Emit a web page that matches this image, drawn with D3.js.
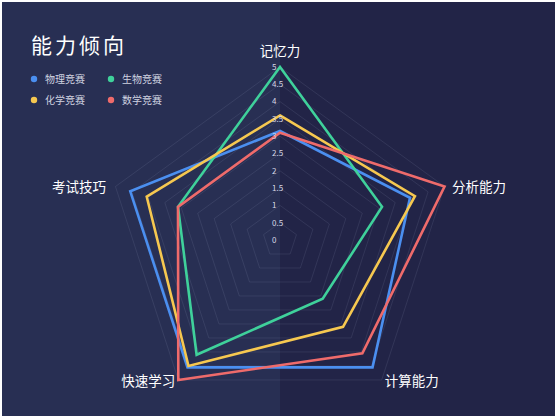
<!DOCTYPE html>
<html><head><meta charset="utf-8">
<script src="https://cdn.jsdelivr.net/npm/d3@7/dist/d3.min.js"></script>
<style>
html,body{margin:0;padding:0;background:#fff;}
svg{display:block;font-family:"Noto Sans CJK SC","Noto Sans",sans-serif;}
</style></head>
<body>
<svg id="chart" width="558" height="419"></svg>
<script>
const axes = ["记忆力", "分析能力", "计算能力", "快速学习", "考试技巧"];
const seriesNames = ["物理竞赛", "生物竞赛", "化学竞赛", "数学竞赛"];
const seriesColors = ["#4b8ff0", "#3fd19b", "#f6c850", "#ef6b6b"];
const physics   = [3.15, 3.95, 4.55, 4.55, 4.55];
const biology   = [5.0, 3.1, 2.1, 4.1, 3.1];
const chemistry = [3.6, 4.1, 3.1, 4.5, 4.05];
const math      = [3.1, 5.0, 4.05, 5.0, 3.1];
const tickValues = [0, 0.5, 1, 1.5, 2, 2.5, 3, 3.5, 4, 4.5, 5];
const tickLabels = ["0", "0.5", "1", "1.5", "2", "2.5", "3", "3.5", "4", "4.5", "5"];
const seriesData = [physics, biology, chemistry, math];

const svg = d3.select("#chart");
const cx = 280, cy = 240, R = 173;

// background panels
svg.append("rect").attr("x", 2).attr("y", 2).attr("width", 278).attr("height", 414).attr("fill", "#282f53");
svg.append("rect").attr("x", 280).attr("y", 2).attr("width", 275).attr("height", 414).attr("fill", "#222447");

const r = d3.scaleLinear().domain([0, 5]).range([0, R]);
const angle = d3.scalePoint().domain(axes).range([0, 2 * Math.PI * 4 / 5]);
const pt = (ax, v) => {
  const a = angle(ax);
  return [cx + r(v) * Math.sin(a), cy - r(v) * Math.cos(a)];
};

const g = svg.append("g");
const lineGen = d3.line().curve(d3.curveLinearClosed);
tickValues.slice(1).forEach(t => {
  g.append("path")
    .attr("d", lineGen(axes.map(a => pt(a, t))))
    .attr("fill", "none")
    .attr("stroke", "rgba(200,210,240,0.13)")
    .attr("stroke-width", 0.8);
});

seriesData.forEach((vals, i) => {
  g.append("path")
    .attr("d", lineGen(axes.map((a, k) => pt(a, vals[k]))))
    .attr("fill", "none")
    .attr("stroke", seriesColors[i])
    .attr("stroke-width", 2.6)
    .attr("stroke-linejoin", "miter");
});

tickValues.forEach((t, i) => {
  g.append("text")
    .attr("x", cx - 8)
    .attr("y", cy - r(t))
    .attr("dy", "0.35em")
    .attr("font-size", 8)
    .attr("fill", "#d6d9e6")
    .text(tickLabels[i]);
});

axes.forEach(a => {
  const ang = angle(a);
  const p = pt(a, 5.35);
  const s = Math.sin(ang);
  let anchor = Math.abs(s) < 0.1 ? "middle" : (s > 0 ? "start" : "end");
  let dx = 0, dy = 0;
  if (anchor === "middle") dy = -4;
  else if (Math.cos(ang) > 0) { dx = s > 0 ? -4 : 2; dy = 4; }
  else { dx = s > 0 ? -4 : 4; dy = -8; }
  g.append("text")
    .attr("x", p[0] + dx)
    .attr("y", p[1] + dy)
    .attr("dy", "0.35em")
    .attr("text-anchor", anchor)
    .attr("font-size", 13.5)
    .attr("fill", "#ffffff")
    .text(a);
});

svg.append("text")
  .attr("x", 31).attr("y", 53)
  .attr("font-size", 21)
  .attr("letter-spacing", 3)
  .attr("fill", "#ffffff")
  .text("能力倾向");

const legendPos = [[34, 79], [111, 79], [34, 100], [111, 100]];
seriesNames.forEach((name, k) => {
  const [lx, ly] = legendPos[k];
  svg.append("circle").attr("cx", lx).attr("cy", ly).attr("r", 3.2).attr("fill", seriesColors[k]);
  svg.append("text").attr("x", lx + 11).attr("y", ly).attr("dy", "0.36em")
    .attr("font-size", 10).attr("fill", "#d0d3e0").text(name);
});
</script>
</body></html>
